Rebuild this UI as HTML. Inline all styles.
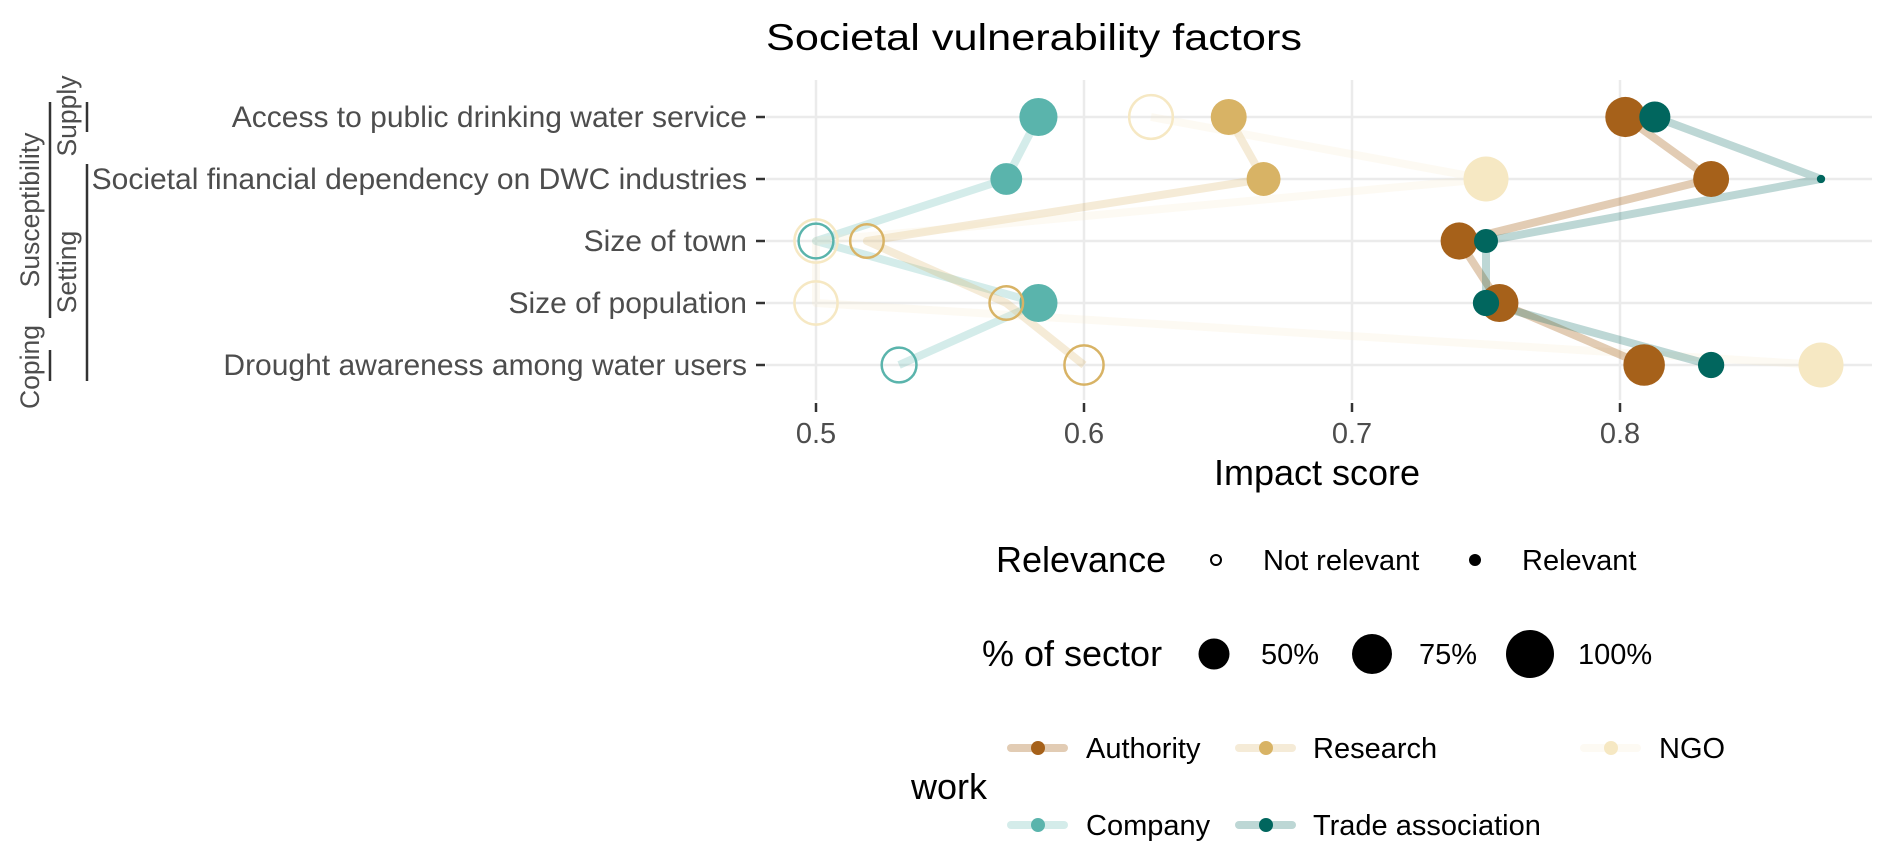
<!DOCTYPE html>
<html><head><meta charset="utf-8"><style>
html,body{margin:0;padding:0;background:#fff;}
svg{display:block;font-family:"Liberation Sans",Arial,sans-serif;}
</style></head><body>
<svg id="chart" width="1892" height="861" viewBox="0 0 1892 861">
<text x="1034" y="50" font-size="37" text-anchor="middle" textLength="536" lengthAdjust="spacingAndGlyphs" fill="#000">Societal vulnerability factors</text>
<g id="grid"></g>
<g id="series"></g>
<g id="axes"></g>
<text x="1317" y="485" font-size="36" text-anchor="middle" fill="#000">Impact score</text>
<g fill="#4d4d4d" font-size="26.5">
<text transform="translate(39,210) rotate(-90)" text-anchor="middle">Susceptibility</text>
<text transform="translate(76,116) rotate(-90)" text-anchor="middle">Supply</text>
<text transform="translate(76,272) rotate(-90)" text-anchor="middle">Setting</text>
<text transform="translate(39,367) rotate(-90)" text-anchor="middle">Coping</text>
<line x1="50" y1="102" x2="50" y2="318" stroke="#333" stroke-width="2.5"/>
<line x1="87" y1="102" x2="87" y2="132" stroke="#333" stroke-width="2.5"/>
<line x1="87" y1="164" x2="87" y2="381" stroke="#333" stroke-width="2.5"/>
<line x1="50" y1="350" x2="50" y2="381" stroke="#333" stroke-width="2.5"/>
</g>
<g font-size="29" fill="#000">
<text x="996" y="572" font-size="36">Relevance</text>
<circle cx="1216" cy="560" r="5" fill="none" stroke="#000" stroke-width="2"/>
<text x="1263" y="570">Not relevant</text>
<circle cx="1475" cy="560" r="6" fill="#000"/>
<text x="1522" y="570">Relevant</text>
</g>
<g font-size="29" fill="#000">
<text x="982" y="666" font-size="36">% of sector</text>
<circle cx="1214" cy="654" r="15.5"/>
<text x="1261" y="664">50%</text>
<circle cx="1372" cy="654" r="20"/>
<text x="1419" y="664">75%</text>
<circle cx="1530" cy="654" r="24"/>
<text x="1578" y="664">100%</text>
</g>
<g id="legend-work" font-size="29" fill="#000">
<text x="911" y="799" font-size="36">work</text>
</g>
</svg>
<script>
const rows = ["Access to public drinking water service","Societal financial dependency on DWC industries","Size of town","Size of population","Drought awareness among water users"];
const seriesNames = ["Company","Research","NGO","Authority","Trade association"];
const seriesColors = ["#5AB4AC","#D8B365","#F6E8C3","#A6611A","#01665E"];
const lineAlpha = [0.2,0.2,0.15,0.25,0.2];
const companyScore = [0.583,0.571,0.5,0.583,0.531];
const researchScore = [0.654,0.667,0.519,0.571,0.600];
const ngoScore = [0.625,0.750,0.5,0.5,0.875];
const authorityScore = [0.802,0.834,0.740,0.755,0.809];
const tradeScore = [0.813,0.875,0.750,0.750,0.834];
const companyPct = [63,44,60,63,60];
const researchPct = [56,50,56,56,75];
const ngoPct = [92,88,90,90,88];
const authorityPct = [70,56,60,63,75];
const tradePct = [42,3,25,30,30];
const companyRel = [1,1,0,1,0];
const researchRel = [1,1,0,0,0];
const ngoRel = [0,1,0,0,1];
const authorityRel = [1,1,1,1,1];
const tradeRel = [1,1,1,1,1];
const xTicks = [0.5,0.6,0.7,0.8];
const xTickLabels = ["0.5","0.6","0.7","0.8"];

const scores=[companyScore,researchScore,ngoScore,authorityScore,tradeScore];
const pcts=[companyPct,researchPct,ngoPct,authorityPct,tradePct];
const rels=[companyRel,researchRel,ngoRel,authorityRel,tradeRel];
const NS='http://www.w3.org/2000/svg';
const X0=766,X1=1872,Y0=80,Y1=400;
function xs(v){return 816+(v-0.5)*2680;}
function ys(i){return 117+i*62;}
function rs(p){return 24*Math.sqrt(p/100);}
function mk(tag,attrs,parent){const e=document.createElementNS(NS,tag);for(const k in attrs)e.setAttribute(k,attrs[k]);parent.appendChild(e);return e;}
const grid=document.getElementById('grid'),ser=document.getElementById('series'),axes=document.getElementById('axes');
rows.forEach((r,i)=>{
  const l=mk('line',{x1:X0,x2:X1,y1:ys(i),y2:ys(i),stroke:'#ebebeb','stroke-width':2.5},grid);
  
  
  const t=mk('line',{x1:756,x2:765,y1:ys(i),y2:ys(i),stroke:'#333','stroke-width':2.5},axes);
  
  
  const tx=mk('text',{x:747,y:ys(i)+10,'text-anchor':'end','font-size':30,fill:'#4d4d4d'},axes);
  
  
  tx.textContent=r;
});
xTicks.forEach((v,i)=>{
  const l=mk('line',{x1:xs(v),x2:xs(v),y1:Y0,y2:Y1,stroke:'#ebebeb','stroke-width':2.5},grid);
  
  
  const t=mk('line',{x1:xs(v),x2:xs(v),y1:403,y2:412,stroke:'#333','stroke-width':2.5},axes);
  
  
  const tx=mk('text',{x:xs(v),y:443,'text-anchor':'middle','font-size':29,fill:'#4d4d4d'},axes);
  
  
  tx.textContent=xTickLabels[i];
});
scores.forEach((s,k)=>{
  const pts=s.map((v,i)=>xs(v)+','+ys(i)).join(' ');
  const pl=mk('polyline',{points:pts,fill:'none',stroke:seriesColors[k],'stroke-opacity':lineAlpha[k]*1.3,'stroke-width':8,'stroke-linejoin':'round'},ser);
  
  
});
scores.forEach((s,k)=>{
  s.forEach((v,i)=>{
    const r=rs(pcts[k][i]);
    const filled=rels[k][i]===1;
    const c=mk('circle',{cx:xs(v),cy:ys(i),r:filled?r:r-1.2,fill:filled?seriesColors[k]:'none',stroke:filled?'none':seriesColors[k],'stroke-width':2.5},ser);
    
    
  });
});
const lw=document.getElementById('legend-work');
const keyPos=[[1011,825],[1239,748],[1584,748],[1011,748],[1239,825]];
const labX=[1086,1313,1659,1086,1313];
seriesNames.forEach((n,k)=>{
  const [x,y]=keyPos[k];
  const l=mk('line',{x1:x,x2:x+53,y1:y,y2:y,stroke:seriesColors[k],'stroke-opacity':lineAlpha[k]*1.3,'stroke-width':8,'stroke-linecap':'round'},lw);
  
  
  const c=mk('circle',{cx:x+27,cy:y,r:7,fill:seriesColors[k]},lw);
  
  
  const t=mk('text',{x:labX[k],y:y+10},lw);
  
  
  t.textContent=n;
});
</script>
</body></html>
